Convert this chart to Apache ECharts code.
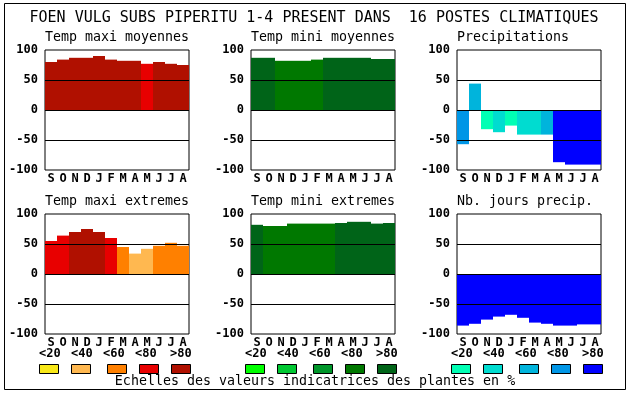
<!DOCTYPE html>
<html>
<head>
<meta charset="utf-8">
<script src="https://cdn.jsdelivr.net/npm/echarts@6/dist/echarts.min.js"></script>
<style>html,body{margin:0;padding:0;background:#fff;}#c{width:630px;height:394px;}</style>
</head>
<body>
<div id="c"></div>
<script>
const months = ['S','O','N','D','J','F','M','A','M','J','J','A'];
const yTicks = [-100, -50, 0, 50, 100];
const legendLabels = ['<20','<40','<60','<80','>80'];

const redScale = ['#f8e818','#ffb850','#ff8000','#e80000','#b01000'];
const greenScale = ['#00ff00','#00c832','#00962a','#007800','#006418'];
const blueScale = ['#00ffb4','#00dcd0','#00b4dc','#0096e6','#0000ff'];

const tmaxMoyVals = [80, 84, 87, 87, 90, 84, 82, 82, 77, 80, 77, 75];
const tmaxMoyCls  = [4, 4, 4, 4, 4, 4, 4, 4, 3, 4, 4, 4];
const tminMoyVals = [87, 87, 82, 82, 82, 84, 87, 87, 87, 87, 85, 85];
const tminMoyCls  = [4, 4, 3, 3, 3, 3, 4, 4, 4, 4, 4, 4];
const precVals    = [-57, 44, -32, -37, -26, -41, -41, -41, -87, -91, -91, -91];
const precCls     = [3, 2, 0, 1, 0, 1, 1, 2, 4, 4, 4, 4];
const tmaxExtVals = [55, 64, 70, 75, 70, 60, 45, 34, 42, 47, 52, 47];
const tmaxExtCls  = [3, 3, 4, 4, 4, 3, 2, 1, 1, 2, 2, 2];
const tminExtVals = [82, 80, 80, 84, 84, 84, 84, 85, 87, 87, 84, 85];
const tminExtCls  = [4, 3, 3, 3, 3, 3, 3, 4, 4, 4, 4, 4];
const joursVals   = [-86, -83, -76, -71, -68, -73, -81, -83, -86, -86, -84, -84];
const joursCls    = [4, 4, 4, 4, 4, 4, 4, 4, 4, 4, 4, 4];

const mainTitle = 'FOEN VULG SUBS PIPERITU 1-4 PRESENT DANS  16 POSTES CLIMATIQUES';
const footText = 'Echelles des valeurs indicatrices des plantes en %';

const panels = [
  {title:'Temp maxi moyennes', vals:tmaxMoyVals, cls:tmaxMoyCls, scale:redScale},
  {title:'Temp mini moyennes', vals:tminMoyVals, cls:tminMoyCls, scale:greenScale},
  {title:'Precipitations', vals:precVals, cls:precCls, scale:blueScale},
  {title:'Temp maxi extremes', vals:tmaxExtVals, cls:tmaxExtCls, scale:redScale},
  {title:'Temp mini extremes', vals:tminExtVals, cls:tminExtCls, scale:greenScale},
  {title:'Nb. jours precip.', vals:joursVals, cls:joursCls, scale:blueScale}
];

const MONO = '"DejaVu Sans Mono", "Liberation Mono", monospace';
const colLeft = [45, 251, 457];
const rowTop = [50, 214];
const plotW = 144, plotH = 120;

const grids = [], xAxes = [], yAxes = [], series = [], graphics = [];

panels.forEach((p, i) => {
  const col = i % 3, row = Math.floor(i / 3);
  grids.push({left: colLeft[col], top: rowTop[row], width: plotW, height: plotH,
    show: true, borderColor: '#000', borderWidth: 1, backgroundColor: '#fff'});
  xAxes.push({type: 'category', gridIndex: i, data: months,
    axisLine: {show: false}, axisTick: {show: false}, splitLine: {show: false},
    axisLabel: {interval: 0, margin: 3, color: '#000', fontFamily: MONO, fontWeight: 'bold', fontSize: 12}});
  yAxes.push({type: 'value', gridIndex: i, min: yTicks[0], max: yTicks[yTicks.length - 1], interval: 50,
    axisLine: {show: false}, axisTick: {show: false}, splitLine: {show: false},
    axisLabel: {margin: 7, color: '#000', fontFamily: MONO, fontWeight: 'bold', fontSize: 12}});
  series.push({type: 'bar', xAxisIndex: i, yAxisIndex: i, barWidth: '100%', barCategoryGap: 0,
    silent: true, animation: false,
    data: p.vals.map((v, k) => ({value: v, itemStyle: {color: p.scale[p.cls[k]]}})),
    markLine: {silent: true, symbol: 'none', animation: false, label: {show: false},
      lineStyle: {color: '#000', width: 1, type: 'solid'},
      data: [{yAxis: 50}, {yAxis: 0}, {yAxis: -50}]}
  });
  graphics.push({type: 'text', x: colLeft[col], y: rowTop[row] - 12,
    style: {text: p.title, font: '13.3px ' + MONO, fill: '#000', textVerticalAlign: 'middle'}});
});

// legend rows
const legBase = [39, 245, 451];
const swOff = [0, 32, 68, 100, 132];
const lblOff = [0, 32, 64, 96, 131];
[redScale, greenScale, blueScale].forEach((sc, j) => {
  sc.forEach((c, k) => {
    graphics.push({type: 'rect', shape: {x: legBase[j] + swOff[k] + 0.5, y: 364.5, width: 19, height: 9},
      style: {fill: c, stroke: '#000', lineWidth: 1}});
    graphics.push({type: 'text', x: legBase[j] + lblOff[k], y: 354,
      style: {text: legendLabels[k], font: 'bold 12px ' + MONO, fill: '#000', textVerticalAlign: 'middle'}});
  });
});

graphics.push({type: 'rect', shape: {x: 4.5, y: 3.5, width: 621, height: 386},
  style: {fill: 'none', stroke: '#000', lineWidth: 1}, z: -1});
graphics.push({type: 'text', x: 314, y: 18,
  style: {text: mainTitle, font: '15px ' + MONO, fill: '#000', textAlign: 'center', textVerticalAlign: 'middle'}});
graphics.push({type: 'text', x: 315, y: 382,
  style: {text: footText, font: '13.3px ' + MONO, fill: '#000', textAlign: 'center', textVerticalAlign: 'middle'}});

const chart = echarts.init(document.getElementById('c'), null, {renderer: 'canvas'});
chart.setOption({
  animation: false,
  backgroundColor: '#fff',
  grid: grids, xAxis: xAxes, yAxis: yAxes, series: series,
  graphic: graphics
});
</script>
</body>
</html>
